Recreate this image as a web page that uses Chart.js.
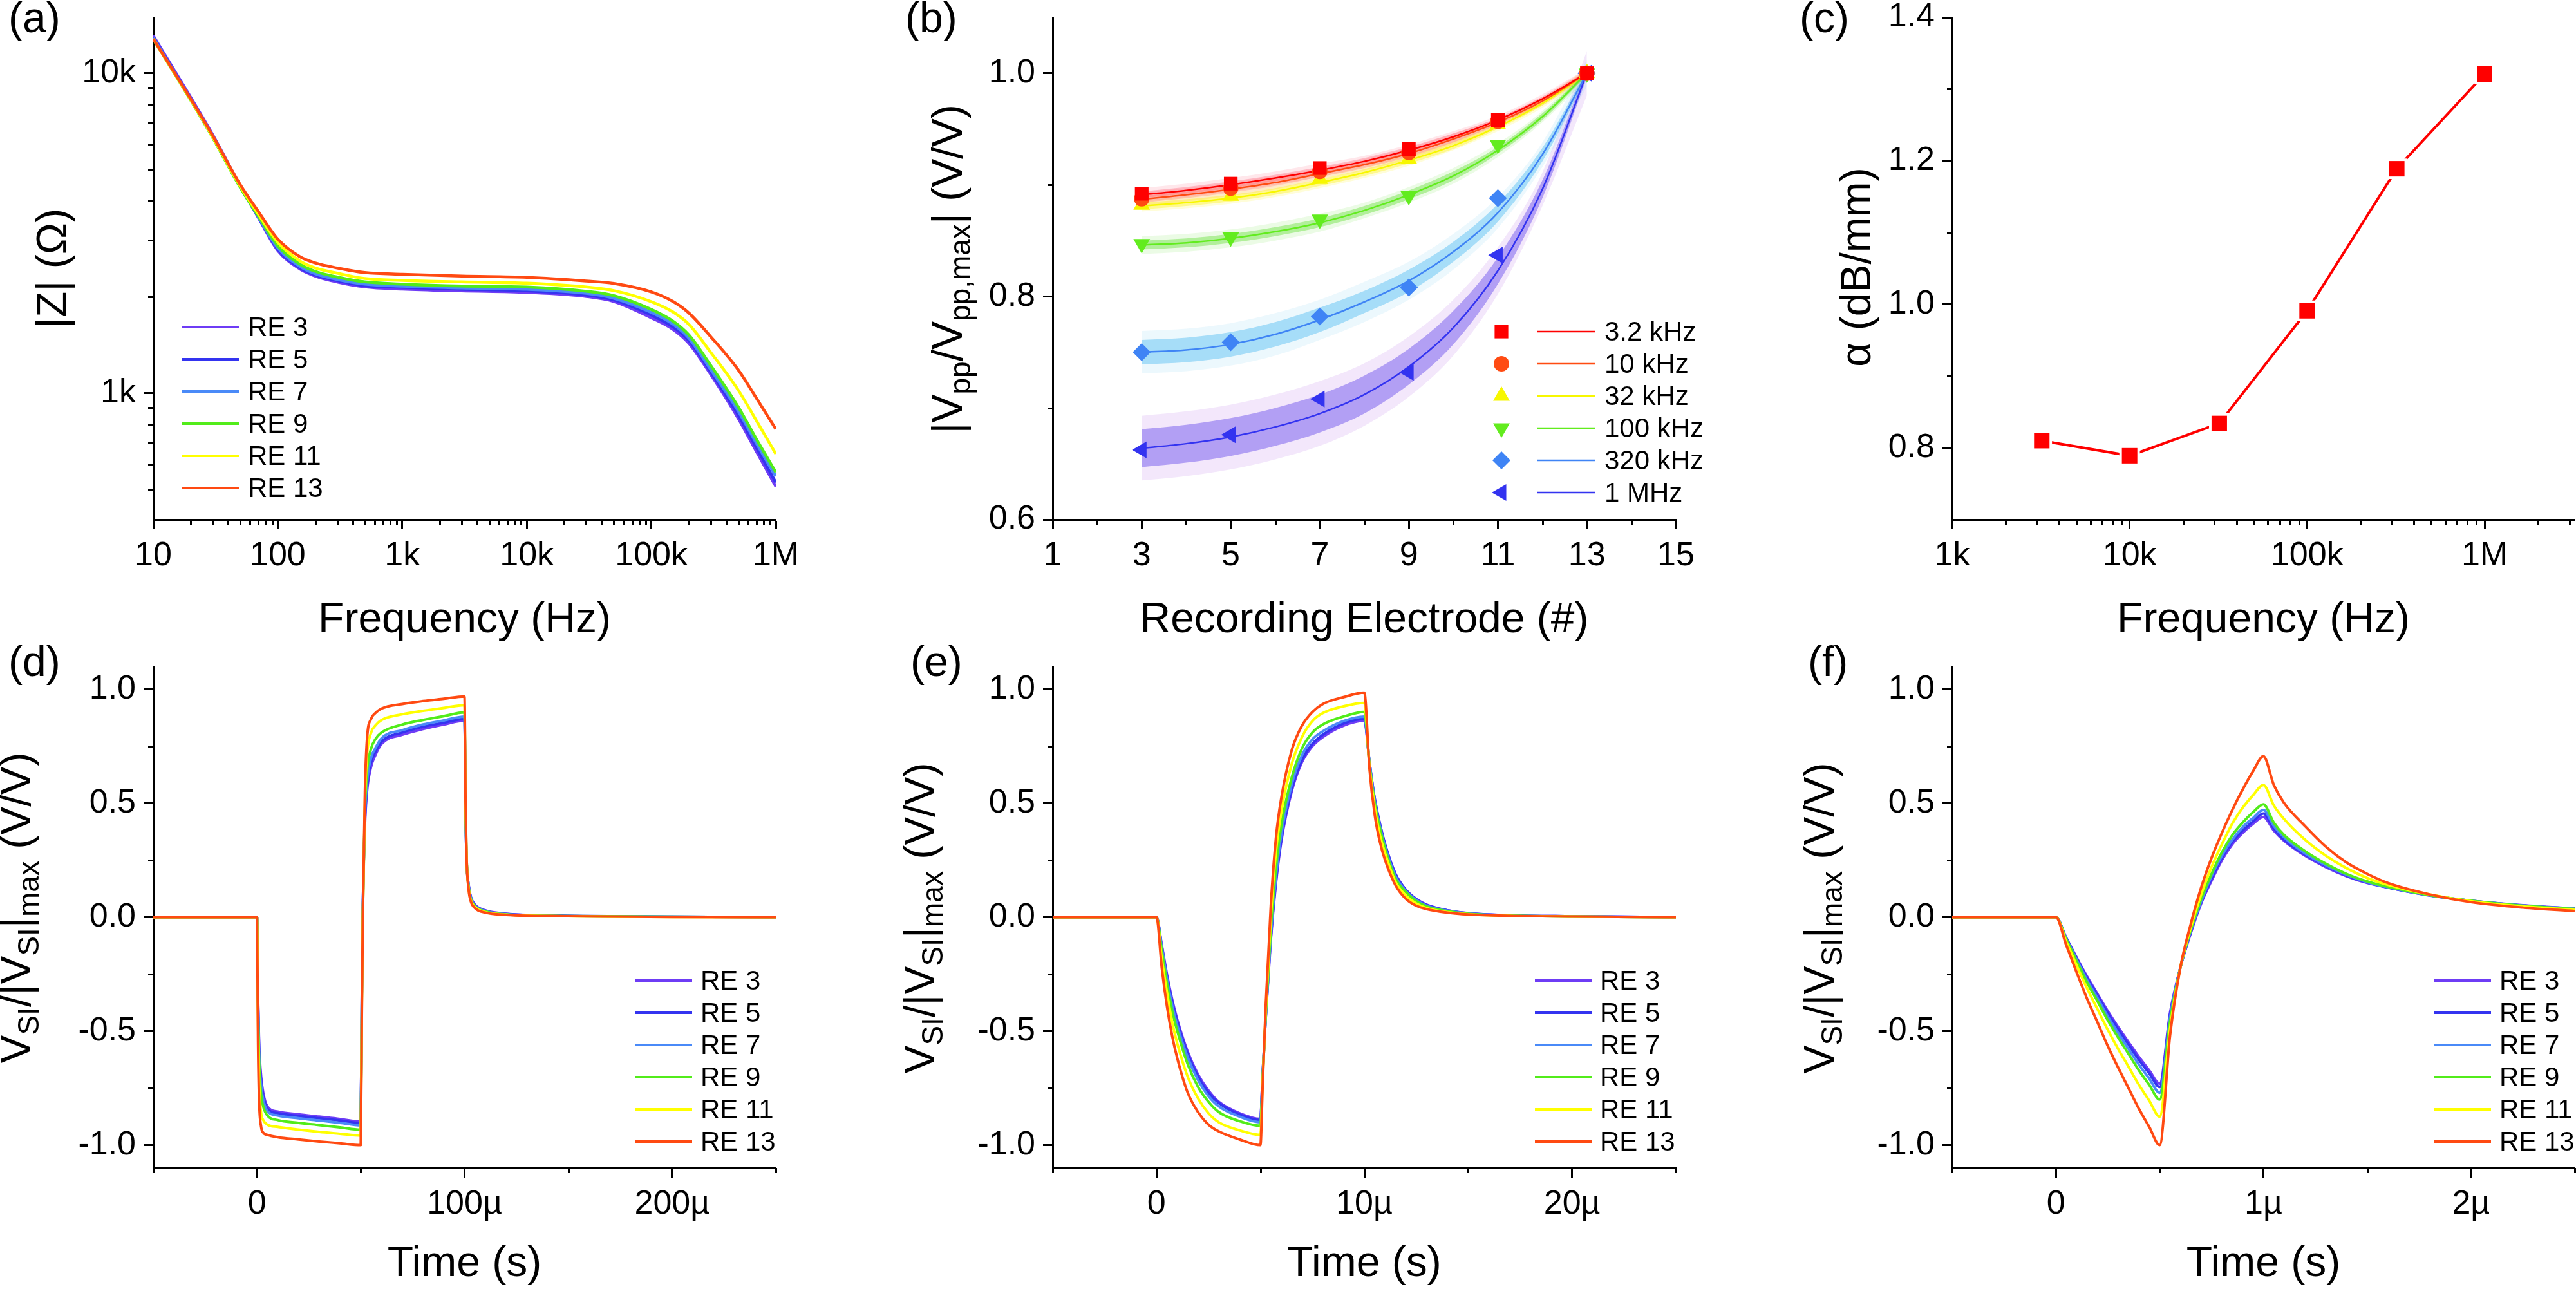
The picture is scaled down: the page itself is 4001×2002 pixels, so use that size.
<!DOCTYPE html>
<html>
<head>
<meta charset="utf-8">
<title>Attenuation along the recording electrodes</title>
<script src="https://cdn.jsdelivr.net/npm/chart.js@4.4.1/dist/chart.umd.min.js"></script>
<style>
  html, body { margin: 0; padding: 0; background: #fff; }
  body { position: relative; width: 4001px; height: 2002px; overflow: hidden; }
  canvas { position: absolute; }
</style>
</head>
<body>
<canvas id="panelA"></canvas>
<canvas id="panelB"></canvas>
<canvas id="panelC"></canvas>
<canvas id="panelD"></canvas>
<canvas id="panelE"></canvas>
<canvas id="panelF"></canvas>
<script>
const FONT = "'Liberation Sans', Arial, sans-serif";
const TICK_FS = 52, TITLE_FS = 66, LEG_FS = 42;
Chart.defaults.font.family = FONT;
Chart.defaults.color = '#000';

// ---------- (a) impedance magnitude
const freqA = [10, 20, 30, 50, 70, 100, 150, 200, 300, 500, 1e3, 3e3, 1e4, 3e4, 5e4, 1e5, 1.5e5, 2e5, 3e5, 5e5, 7e5, 1e6];
const zRE3  = [13100, 8400, 6420, 4440, 3530, 2790, 2443, 2320, 2224, 2147, 2113, 2086, 2063, 2003, 1932, 1718, 1579, 1431, 1143, 832, 655, 510];
const zRE5  = [12950, 8300, 6340, 4410, 3540, 2815, 2465, 2340, 2245, 2165, 2140, 2110, 2086, 2025, 1954, 1753, 1608, 1460, 1164, 852, 674, 525];
const zRE7  = [12880, 8250, 6300, 4400, 3550, 2840, 2490, 2360, 2265, 2190, 2157, 2130, 2110, 2050, 1978, 1786, 1640, 1486, 1184, 878, 695, 549];
const zRE9  = [12800, 8230, 6290, 4390, 3570, 2890, 2530, 2400, 2305, 2225, 2190, 2160, 2145, 2080, 2015, 1825, 1675, 1520, 1220, 904, 716, 565];
const zRE11 = [12800, 8250, 6320, 4430, 3620, 2960, 2590, 2460, 2370, 2280, 2250, 2225, 2205, 2145, 2090, 1930, 1790, 1640, 1340, 1020, 818, 645];
const zRE13 = [12800, 8300, 6380, 4480, 3690, 3030, 2670, 2550, 2460, 2380, 2350, 2320, 2300, 2240, 2200, 2070, 1930, 1780, 1500, 1180, 962, 771];
const reLabels = ['RE 3', 'RE 5', 'RE 7', 'RE 9', 'RE 11', 'RE 13'];
const reColors = ['#6E3CF5', '#3434F0', '#4A8AF8', '#52EC1A', '#FFFF00', '#FF4A12'];
const tickAX = [10, 100, 1e3, 1e4, 1e5, 1e6];
const tickAXLbl = ['10', '100', '1k', '10k', '100k', '1M'];
const tickAY = [1e3, 1e4];
const tickAYLbl = ['1k', '10k'];

// ---------- (b) normalised peak-to-peak amplitude
const electrodes = [3, 5, 7, 9, 11, 13];
const fitX = [3, 4, 5, 6, 7, 8, 9, 10, 11, 12, 13];
const bLabels = ['3.2 kHz', '10 kHz', '32 kHz', '100 kHz', '320 kHz', '1 MHz'];
const vpp3k2  = [0.892, 0.901, 0.915, 0.932, 0.958, 1.0];
const vpp10k  = [0.8875, 0.897, 0.912, 0.929, 0.957, 1.0];
const vpp32k  = [0.882, 0.890, 0.905, 0.923, 0.954, 1.0];
const vpp100k = [0.847, 0.853, 0.869, 0.890, 0.936, 1.0];
const vpp320k = [0.750, 0.759, 0.782, 0.808, 0.888, 1.0];
const vpp1M   = [0.6625, 0.676, 0.708, 0.732, 0.837, 1.0];
const fit3k2  = [0.891, 0.895, 0.900, 0.906, 0.913, 0.921, 0.931, 0.943, 0.958, 0.977, 1.0];
const fit10k  = [0.887, 0.891, 0.896, 0.902, 0.910, 0.918, 0.928, 0.941, 0.956, 0.975, 1.0];
const fit32k  = [0.881, 0.884, 0.888, 0.894, 0.902, 0.911, 0.922, 0.935, 0.952, 0.973, 1.0];
const fit100k = [0.846, 0.848, 0.852, 0.858, 0.866, 0.877, 0.891, 0.908, 0.931, 0.961, 1.0];
const fit320k = [0.750, 0.752, 0.757, 0.766, 0.779, 0.795, 0.814, 0.840, 0.875, 0.927, 1.0];
const fit1M   = [0.664, 0.668, 0.674, 0.683, 0.695, 0.712, 0.737, 0.772, 0.823, 0.896, 1.0];
// half widths of the confidence (inner) and prediction (outer) bands
const in3k2   = [0.003, 0.003, 0.003, 0.003, 0.003, 0.003, 0.003, 0.003, 0.002, 0.002, 0.002];
const out3k2  = [0.006, 0.006, 0.006, 0.006, 0.006, 0.005, 0.005, 0.005, 0.004, 0.004, 0.004];
const in10k   = [0.003, 0.003, 0.003, 0.003, 0.003, 0.003, 0.003, 0.003, 0.002, 0.002, 0.002];
const out10k  = [0.006, 0.006, 0.006, 0.006, 0.005, 0.005, 0.005, 0.005, 0.004, 0.004, 0.004];
const in32k   = [0.003, 0.003, 0.003, 0.003, 0.003, 0.003, 0.003, 0.003, 0.002, 0.002, 0.002];
const out32k  = [0.005, 0.005, 0.005, 0.005, 0.005, 0.005, 0.005, 0.004, 0.004, 0.004, 0.004];
const in100k  = [0.004, 0.004, 0.004, 0.004, 0.004, 0.004, 0.004, 0.004, 0.003, 0.003, 0.002];
const out100k = [0.008, 0.008, 0.008, 0.008, 0.008, 0.007, 0.007, 0.007, 0.006, 0.005, 0.005];
const in320k  = [0.011, 0.011, 0.011, 0.011, 0.011, 0.010, 0.010, 0.009, 0.008, 0.006, 0.003];
const out320k = [0.019, 0.019, 0.019, 0.019, 0.018, 0.018, 0.017, 0.016, 0.014, 0.011, 0.012];
const in1M    = [0.017, 0.017, 0.017, 0.017, 0.017, 0.017, 0.016, 0.015, 0.012, 0.008, 0.004];
const out1M   = [0.029, 0.029, 0.029, 0.029, 0.029, 0.028, 0.027, 0.025, 0.021, 0.015, 0.020];
const tickBX = [1, 3, 5, 7, 9, 11, 13, 15];
const tickBXLbl = ['1', '3', '5', '7', '9', '11', '13', '15'];
const tickBY = [0.6, 0.8, 1.0];
const tickBYLbl = ['0.6', '0.8', '1.0'];

// ---------- (c) attenuation constant
const freqC  = [3200, 10000, 32000, 100000, 320000, 1000000];
const alphaC = [0.81, 0.789, 0.834, 0.991, 1.189, 1.321];
const tickCX = [1e3, 1e4, 1e5, 1e6];
const tickCXLbl = ['1k', '10k', '100k', '1M'];
const tickCY = [0.8, 1.0, 1.2, 1.4];
const tickCYLbl = ['0.8', '1.0', '1.2', '1.4'];

// ---------- (d) 50 us pulse
const tD = [-50, 0, 0.5, 1, 2, 3, 5, 10, 20, 30, 40, 50, 50.5, 51, 52, 53, 55, 57, 60, 70, 80, 90, 100, 100.5, 101, 102, 103, 105, 110, 120, 150, 200, 250];
const dRE3  = [0, 0, -0.35, -0.55, -0.70, -0.77, -0.83, -0.853, -0.865, -0.875, -0.885, -0.897, -0.35, 0.05, 0.40, 0.55, 0.66, 0.71, 0.76, 0.80, 0.825, 0.845, 0.862, 0.45, 0.25, 0.14, 0.09, 0.055, 0.03, 0.015, 0.006, 0.002, 0];
const dRE5  = [0, 0, -0.36, -0.57, -0.72, -0.785, -0.84, -0.86, -0.872, -0.882, -0.892, -0.903, -0.36, 0.04, 0.42, 0.57, 0.68, 0.725, 0.77, 0.81, 0.835, 0.853, 0.87, 0.46, 0.25, 0.14, 0.088, 0.053, 0.028, 0.014, 0.006, 0.002, 0];
const dRE7  = [0, 0, -0.37, -0.59, -0.74, -0.80, -0.85, -0.87, -0.882, -0.892, -0.902, -0.913, -0.37, 0.03, 0.44, 0.59, 0.70, 0.74, 0.785, 0.82, 0.845, 0.863, 0.88, 0.47, 0.25, 0.135, 0.085, 0.05, 0.027, 0.013, 0.005, 0.002, 0];
const dRE9  = [0, 0, -0.40, -0.63, -0.78, -0.83, -0.87, -0.89, -0.902, -0.912, -0.922, -0.932, -0.39, 0.02, 0.47, 0.64, 0.74, 0.78, 0.81, 0.845, 0.865, 0.882, 0.898, 0.47, 0.26, 0.13, 0.08, 0.048, 0.025, 0.012, 0.005, 0.002, 0];
const dRE11 = [0, 0, -0.47, -0.72, -0.86, -0.89, -0.91, -0.92, -0.932, -0.942, -0.95, -0.958, -0.42, 0.01, 0.51, 0.71, 0.81, 0.84, 0.865, 0.89, 0.905, 0.918, 0.93, 0.49, 0.26, 0.125, 0.075, 0.045, 0.022, 0.011, 0.004, 0.001, 0];
const dRE13 = [0, 0, -0.55, -0.80, -0.92, -0.945, -0.955, -0.965, -0.975, -0.984, -0.992, -1.0, -0.45, 0.0, 0.55, 0.78, 0.87, 0.895, 0.915, 0.935, 0.948, 0.958, 0.968, 0.50, 0.26, 0.12, 0.07, 0.04, 0.02, 0.01, 0.004, 0.001, 0];
const tickDX = [0, 100, 200];
const tickDXLbl = ['0', '100\u00b5', '200\u00b5'];

// ---------- (e) 5 us pulse
const tE = [-5, 0, 0.25, 0.5, 0.75, 1, 1.5, 2, 2.5, 3, 4, 5, 5.1, 5.25, 5.5, 5.75, 6, 6.5, 7, 7.5, 8, 9, 10, 10.25, 10.5, 10.75, 11, 11.5, 12, 12.5, 13, 14, 15, 17, 20, 25];
const eRE3  = [0, 0, -0.12, -0.25, -0.36, -0.45, -0.59, -0.69, -0.76, -0.81, -0.86, -0.885, -0.70, -0.45, -0.10, 0.15, 0.33, 0.55, 0.68, 0.75, 0.79, 0.84, 0.862, 0.68, 0.52, 0.41, 0.32, 0.19, 0.12, 0.08, 0.055, 0.03, 0.018, 0.008, 0.004, 0];
const eRE5  = [0, 0, -0.125, -0.26, -0.37, -0.46, -0.60, -0.70, -0.77, -0.815, -0.865, -0.89, -0.70, -0.45, -0.09, 0.16, 0.34, 0.56, 0.69, 0.76, 0.80, 0.85, 0.87, 0.68, 0.52, 0.41, 0.32, 0.19, 0.12, 0.078, 0.053, 0.03, 0.017, 0.008, 0.004, 0];
const eRE7  = [0, 0, -0.13, -0.27, -0.385, -0.475, -0.615, -0.715, -0.785, -0.83, -0.875, -0.90, -0.71, -0.45, -0.08, 0.18, 0.36, 0.58, 0.71, 0.78, 0.815, 0.86, 0.88, 0.68, 0.51, 0.40, 0.31, 0.18, 0.115, 0.075, 0.05, 0.028, 0.016, 0.007, 0.003, 0];
const eRE9  = [0, 0, -0.145, -0.29, -0.41, -0.50, -0.645, -0.745, -0.81, -0.855, -0.895, -0.915, -0.72, -0.44, -0.05, 0.22, 0.40, 0.61, 0.74, 0.81, 0.845, 0.88, 0.90, 0.67, 0.50, 0.39, 0.30, 0.17, 0.11, 0.07, 0.047, 0.026, 0.015, 0.007, 0.003, 0];
const eRE11 = [0, 0, -0.18, -0.33, -0.46, -0.555, -0.70, -0.795, -0.86, -0.90, -0.935, -0.955, -0.74, -0.42, 0.0, 0.29, 0.46, 0.67, 0.79, 0.86, 0.895, 0.925, 0.94, 0.66, 0.48, 0.36, 0.28, 0.155, 0.095, 0.06, 0.04, 0.022, 0.013, 0.006, 0.003, 0];
const eRE13 = [0, 0, -0.22, -0.39, -0.52, -0.62, -0.77, -0.855, -0.91, -0.94, -0.975, -1.0, -0.76, -0.40, 0.05, 0.35, 0.52, 0.73, 0.84, 0.90, 0.935, 0.965, 0.985, 0.65, 0.45, 0.33, 0.25, 0.14, 0.08, 0.05, 0.035, 0.02, 0.012, 0.006, 0.003, 0];
const tickEX = [0, 10, 20];
const tickEXLbl = ['0', '10\u00b5', '20\u00b5'];

// ---------- (f) 0.5 us pulse
const tF = [-0.5, 0, 0.05, 0.1, 0.15, 0.2, 0.25, 0.3, 0.35, 0.4, 0.45, 0.5, 0.55, 0.6, 0.65, 0.7, 0.75, 0.8, 0.85, 0.9, 0.95, 1.0, 1.05, 1.1, 1.2, 1.3, 1.4, 1.5, 1.6, 1.8, 2.0, 2.25, 2.5];
const fRE3  = [0, 0, -0.09, -0.177, -0.26, -0.336, -0.412, -0.482, -0.548, -0.613, -0.672, -0.73, -0.42, -0.22, -0.07, 0.06, 0.16, 0.25, 0.32, 0.37, 0.41, 0.44, 0.38, 0.335, 0.27, 0.22, 0.18, 0.15, 0.13, 0.095, 0.072, 0.052, 0.038];
const fRE5  = [0, 0, -0.092, -0.18, -0.266, -0.343, -0.421, -0.492, -0.559, -0.626, -0.685, -0.745, -0.43, -0.22, -0.065, 0.065, 0.17, 0.26, 0.33, 0.38, 0.42, 0.455, 0.39, 0.34, 0.275, 0.225, 0.183, 0.152, 0.13, 0.096, 0.072, 0.051, 0.037];
const fRE7  = [0, 0, -0.095, -0.186, -0.275, -0.354, -0.435, -0.508, -0.578, -0.647, -0.708, -0.77, -0.44, -0.22, -0.06, 0.07, 0.18, 0.27, 0.34, 0.395, 0.435, 0.47, 0.40, 0.35, 0.28, 0.228, 0.186, 0.154, 0.131, 0.096, 0.072, 0.051, 0.037];
const fRE9  = [0, 0, -0.098, -0.194, -0.286, -0.368, -0.452, -0.528, -0.60, -0.672, -0.736, -0.80, -0.46, -0.22, -0.055, 0.08, 0.19, 0.285, 0.36, 0.415, 0.46, 0.495, 0.415, 0.36, 0.29, 0.235, 0.19, 0.157, 0.133, 0.097, 0.072, 0.05, 0.036];
const fRE11 = [0, 0, -0.108, -0.212, -0.312, -0.403, -0.494, -0.578, -0.656, -0.735, -0.805, -0.875, -0.49, -0.22, -0.045, 0.10, 0.22, 0.32, 0.41, 0.48, 0.535, 0.58, 0.49, 0.43, 0.34, 0.27, 0.215, 0.172, 0.142, 0.10, 0.07, 0.047, 0.032];
const fRE13 = [0, 0, -0.123, -0.242, -0.357, -0.46, -0.565, -0.66, -0.75, -0.84, -0.92, -1.0, -0.52, -0.22, -0.03, 0.13, 0.26, 0.37, 0.47, 0.56, 0.64, 0.706, 0.58, 0.50, 0.40, 0.31, 0.24, 0.19, 0.15, 0.10, 0.066, 0.042, 0.027];
const tickFX = [0, 1, 2];
const tickFXLbl = ['0', '1\u00b5', '2\u00b5'];

const tickVY = [-1, -0.5, 0, 0.5, 1];
const tickVYLbl = ['-1.0', '-0.5', '0.0', '0.5', '1.0'];

// ---------- helpers
function logMinor(lo, hi) {
  const out = [];
  for (let d = lo; d < hi; d *= 10)
    for (let m = 2; m <= 9; m++) if (d * m <= hi) out.push(d * m);
  return out;
}

function parseRich(str) {
  const segs = [];
  str.split(/(_\{[^}]*\})/).forEach(p => {
    if (!p) return;
    if (p.startsWith('_{')) segs.push({t: p.slice(2, -1), sub: true});
    else segs.push({t: p, sub: false});
  });
  return segs;
}

function drawRich(ctx, str, size, cx, by) {
  const segs = parseRich(str);
  const fnt = s => (s.sub ? Math.round(size * 0.7) : size) + 'px ' + FONT;
  let w = 0;
  segs.forEach(s => { ctx.font = fnt(s); w += ctx.measureText(s.t).width; });
  let x = cx - w / 2;
  ctx.textAlign = 'left';
  ctx.textBaseline = 'alphabetic';
  ctx.fillStyle = '#000';
  segs.forEach(s => {
    ctx.font = fnt(s);
    ctx.fillText(s.t, x, by + (s.sub ? size * 0.2 : 0));
    x += ctx.measureText(s.t).width;
  });
}

function drawMarker(ctx, mk, x, y, color) {
  ctx.fillStyle = color;
  ctx.beginPath();
  if (mk.style === 'rect') {
    const s = Math.SQRT1_2 * mk.r;
    ctx.rect(x - s, y - s, 2 * s, 2 * s);
  } else if (mk.style === 'circle') {
    ctx.arc(x, y, mk.r, 0, Math.PI * 2);
  } else if (mk.style === 'rectRot') {
    ctx.moveTo(x - mk.r, y); ctx.lineTo(x, y - mk.r); ctx.lineTo(x + mk.r, y); ctx.lineTo(x, y + mk.r);
  } else {
    let a = (mk.rot || 0) * Math.PI / 180;
    for (let k = 0; k < 3; k++) {
      const px = x + Math.sin(a) * mk.r, py = y - Math.cos(a) * mk.r;
      if (k === 0) ctx.moveTo(px, py); else ctx.lineTo(px, py);
      a += 2 * Math.PI / 3;
    }
  }
  ctx.closePath();
  ctx.fill();
}

function drawLegend(ctx, lg) {
  lg.items.forEach((it, i) => {
    const y = lg.y0 + i * lg.dy;
    ctx.strokeStyle = it.color;
    ctx.lineWidth = lg.lw;
    ctx.beginPath(); ctx.moveTo(lg.x0, y); ctx.lineTo(lg.x1, y); ctx.stroke();
    if (it.marker) drawMarker(ctx, it.marker, lg.mx, y, it.color);
    ctx.font = LEG_FS + 'px ' + FONT;
    ctx.textAlign = 'left';
    ctx.textBaseline = 'middle';
    ctx.fillStyle = '#000';
    ctx.fillText(it.label, lg.tx, y + 2);
  });
}

function axis(type, min, max, vals, lbls, isX, size) {
  return {
    type, min, max,
    position: isX ? 'bottom' : 'left',
    border: {display: true, color: '#000', width: 3},
    grid: {display: true, drawOnChartArea: false, drawTicks: true, tickLength: 15, tickWidth: 3, tickColor: '#000'},
    ticks: {
      autoSkip: false, maxRotation: 0, minRotation: 0,
      padding: isX ? 10 : 12, color: '#000',
      font: {size: TICK_FS, family: FONT},
      callback: (v, i) => lbls[i]
    },
    afterBuildTicks: s => { s.ticks = vals.map(v => ({value: v})); },
    afterFit: s => {
      if (isX) s.height = size; else s.width = size;
      s.paddingLeft = 0; s.paddingRight = 0; s.paddingTop = 0; s.paddingBottom = 0;
    }
  };
}

function decorPlugin(box, plot, d) {
  return {
    id: 'decor',
    afterDraw(chart) {
      const ctx = chart.ctx, ca = chart.chartArea;
      const xs = chart.scales.x, ys = chart.scales.y;
      ctx.save();
      // minor ticks
      ctx.strokeStyle = '#000';
      ctx.lineWidth = 3;
      ctx.beginPath();
      d.minorX.forEach(v => {
        const p = Math.round(xs.getPixelForValue(v)) + 0.5;
        ctx.moveTo(p, ca.bottom); ctx.lineTo(p, ca.bottom + 8);
      });
      d.minorY.forEach(v => {
        const p = Math.round(ys.getPixelForValue(v)) + 0.5;
        ctx.moveTo(ca.left, p); ctx.lineTo(ca.left - 8, p);
      });
      ctx.stroke();
      // everything else in page coordinates
      ctx.translate(-box.x, -box.y);
      drawRich(ctx, d.xTitle, TITLE_FS, (plot.l + plot.r) / 2, d.xTitleY);
      ctx.save();
      ctx.translate(d.yTitleX, d.yTitleY);
      ctx.rotate(-Math.PI / 2);
      drawRich(ctx, d.yTitle, TITLE_FS, 0, 0);
      ctx.restore();
      ctx.font = TITLE_FS + 'px ' + FONT;
      ctx.textAlign = 'left';
      ctx.textBaseline = 'alphabetic';
      ctx.fillStyle = '#000';
      ctx.fillText(d.tag, d.tagX, d.tagY);
      if (d.legend) drawLegend(ctx, d.legend);
      ctx.restore();
    }
  };
}

function buildPanel(id, box, plot, xAxis, yAxis, datasets, d) {
  const cv = document.getElementById(id);
  cv.width = box.w; cv.height = box.h;
  cv.style.left = box.x + 'px'; cv.style.top = box.y + 'px';
  const yW = plot.l - box.x, xH = box.y + box.h - plot.b;
  new Chart(cv, {
    type: 'line',
    data: {datasets},
    options: {
      responsive: false, animation: false, devicePixelRatio: 1, events: [],
      layout: {autoPadding: false, padding: {left: 0, top: plot.t - box.y, right: box.x + box.w - plot.r, bottom: 0}},
      plugins: {legend: {display: false}, tooltip: {enabled: false}},
      scales: {
        x: axis(xAxis.type, xAxis.min, xAxis.max, xAxis.vals, xAxis.lbls, true, xH),
        y: axis(yAxis.type, yAxis.min, yAxis.max, yAxis.vals, yAxis.lbls, false, yW)
      }
    },
    plugins: [decorPlugin(box, plot, d)]
  });
}

function reDatasets(xs, series, width) {
  return series.map((ys, i) => ({
    data: xs.map((x, k) => ({x, y: ys[k]})),
    borderColor: reColors[i], borderWidth: width, borderJoinStyle: 'round',
    pointRadius: 0, fill: false, cubicInterpolationMode: 'monotone',
    order: series.length - i
  }));
}

function reLegend(x0, x1, tx, y0) {
  return {x0, x1, tx, y0, dy: 50, lw: 4, items: reLabels.map((l, i) => ({label: l, color: reColors[i]}))};
}

// ---------- layout boxes (page px)
const col = [{x: 0, w: 1330}, {x: 1335, w: 1330}, {x: 2670, w: 1331}];
const row = [{y: 0, h: 1000}, {y: 1000, h: 1002}];
const boxOf = (c, r) => ({x: col[c].x, w: col[c].w, y: row[r].y, h: row[r].h});

// (a)
buildPanel('panelA', boxOf(0, 0), {l: 238, t: 27, r: 1205, b: 807},
  {type: 'logarithmic', min: 10, max: 1e6, vals: tickAX, lbls: tickAXLbl},
  {type: 'logarithmic', min: 402, max: 14940, vals: tickAY, lbls: tickAYLbl},
  reDatasets(freqA, [zRE3, zRE5, zRE7, zRE9, zRE11, zRE13], 4.5),
  {minorX: logMinor(10, 1e6), minorY: logMinor(100, 14940).filter(v => v >= 402),
   xTitle: 'Frequency (Hz)', xTitleY: 982, yTitle: '|Z| (\u03a9)', yTitleX: 103, yTitleY: 417,
   tag: '(a)', tagX: 13, tagY: 50, legend: reLegend(282, 371, 385, 508)});

// (b)
const bColors = ['#FF0000', '#FF4B12', '#F7F700', '#62EC1E', '#3F84F5', '#3333F0'];
const bBands = [
  ['rgba(255,60,90,0.28)', 'rgba(255,60,90,0.12)'],
  ['rgba(255,110,60,0.28)', 'rgba(255,110,60,0.12)'],
  ['rgba(255,240,0,0.35)', 'rgba(255,240,0,0.15)'],
  ['rgba(90,220,40,0.40)', 'rgba(120,230,80,0.15)'],
  ['rgba(60,180,240,0.40)', 'rgba(100,200,240,0.12)'],
  ['rgba(100,70,235,0.45)', 'rgba(190,120,235,0.18)']
];
const bMarkers = [
  {style: 'rect', r: 15, rot: 0}, {style: 'circle', r: 12, rot: 0}, {style: 'triangle', r: 15, rot: 0},
  {style: 'triangle', r: 15, rot: 180}, {style: 'rectRot', r: 14, rot: 0}, {style: 'triangle', r: 15, rot: -90}
];
const bPts = [vpp3k2, vpp10k, vpp32k, vpp100k, vpp320k, vpp1M];
const bFit = [fit3k2, fit10k, fit32k, fit100k, fit320k, fit1M];
const bIn = [in3k2, in10k, in32k, in100k, in320k, in1M];
const bOut = [out3k2, out10k, out32k, out100k, out320k, out1M];
const dsB = [];
bPts.forEach((pts, j) => {
  const band = (hw, sign) => fitX.map((x, k) => ({x, y: bFit[j][k] + sign * hw[k]}));
  const edge = {borderColor: 'rgba(0,0,0,0)', borderWidth: 0, pointRadius: 0, cubicInterpolationMode: 'monotone'};
  dsB.push(Object.assign({data: band(bOut[j], 1), fill: '+1', backgroundColor: bBands[j][1], order: 30}, edge));
  dsB.push(Object.assign({data: band(bOut[j], -1), fill: false, order: 30}, edge));
  dsB.push(Object.assign({data: band(bIn[j], 1), fill: '+1', backgroundColor: bBands[j][0], order: 20}, edge));
  dsB.push(Object.assign({data: band(bIn[j], -1), fill: false, order: 20}, edge));
  dsB.push({data: fitX.map((x, k) => ({x, y: bFit[j][k]})), borderColor: bColors[j], borderWidth: 2.5,
    pointRadius: 0, fill: false, cubicInterpolationMode: 'monotone', order: 10});
  const mk = bMarkers[j];
  dsB.push({data: electrodes.map((x, k) => ({x, y: pts[k]})), showLine: false,
    pointStyle: mk.style, pointRadius: mk.r, pointRotation: mk.rot,
    pointBackgroundColor: bColors[j], pointBorderColor: bColors[j], pointBorderWidth: 0, order: 0});
});
buildPanel('panelB', boxOf(1, 0), {l: 1635, t: 27, r: 2603, b: 807},
  {type: 'linear', min: 1, max: 15, vals: tickBX, lbls: tickBXLbl},
  {type: 'linear', min: 0.6, max: 1.05, vals: tickBY, lbls: tickBYLbl},
  dsB,
  {minorX: [2, 4, 6, 8, 10, 12, 14], minorY: [0.7, 0.9],
   xTitle: 'Recording Electrode (#)', xTitleY: 982, yTitle: '|V_{pp}/V_{pp,max}| (V/V)', yTitleX: 1494, yTitleY: 418,
   tag: '(b)', tagX: 1406, tagY: 50,
   legend: {x0: 2388, x1: 2478, tx: 2492, mx: 2332, y0: 515, dy: 50, lw: 2.5,
     items: bLabels.map((l, j) => ({label: l, color: bColors[j], marker: bMarkers[j]}))}});

// (c)
const cPts = freqC.map((f, k) => ({x: f, y: alphaC[k]}));
buildPanel('panelC', boxOf(2, 0), {l: 3032, t: 27, r: 3999, b: 807},
  {type: 'logarithmic', min: 1e3, max: 3.22e6, vals: tickCX, lbls: tickCXLbl},
  {type: 'linear', min: 0.7, max: 1.4, vals: tickCY, lbls: tickCYLbl},
  [
    {data: cPts, showLine: false, pointStyle: 'rect', pointRadius: 17, pointBackgroundColor: '#FF0000', pointBorderWidth: 0, order: 0},
    {data: cPts, showLine: false, pointStyle: 'rect', pointRadius: 22.5, pointBackgroundColor: '#FFFFFF', pointBorderWidth: 0, order: 1},
    {data: cPts, borderColor: '#FF0000', borderWidth: 4, pointRadius: 0, fill: false, tension: 0, order: 2}
  ],
  {minorX: logMinor(1e3, 3.22e6), minorY: [0.9, 1.1, 1.3],
   xTitle: 'Frequency (Hz)', xTitleY: 982, yTitle: '\u03b1 (dB/mm)', yTitleX: 2905, yTitleY: 415,
   tag: '(c)', tagX: 2795, tagY: 50});

// (d)
buildPanel('panelD', boxOf(0, 1), {l: 238, t: 1035, r: 1205, b: 1814},
  {type: 'linear', min: -50, max: 250, vals: tickDX, lbls: tickDXLbl},
  {type: 'linear', min: -1.1, max: 1.1, vals: tickVY, lbls: tickVYLbl},
  reDatasets(tD, [dRE3, dRE5, dRE7, dRE9, dRE11, dRE13], 4),
  {minorX: [-50, 50, 150, 250], minorY: [-0.75, -0.25, 0.25, 0.75],
   xTitle: 'Time (s)', xTitleY: 1982, yTitle: 'V_{SI}/|V_{SI}|_{max} (V/V)', yTitleX: 47, yTitleY: 1410,
   tag: '(d)', tagX: 13, tagY: 1050, legend: reLegend(987, 1075, 1088, 1523)});

// (e)
buildPanel('panelE', boxOf(1, 1), {l: 1635, t: 1035, r: 2603, b: 1814},
  {type: 'linear', min: -5, max: 25, vals: tickEX, lbls: tickEXLbl},
  {type: 'linear', min: -1.1, max: 1.1, vals: tickVY, lbls: tickVYLbl},
  reDatasets(tE, [eRE3, eRE5, eRE7, eRE9, eRE11, eRE13], 4),
  {minorX: [-5, 5, 15, 25], minorY: [-0.75, -0.25, 0.25, 0.75],
   xTitle: 'Time (s)', xTitleY: 1982, yTitle: 'V_{SI}/|V_{SI}|_{max} (V/V)', yTitleX: 1451, yTitleY: 1426,
   tag: '(e)', tagX: 1414, tagY: 1050, legend: reLegend(2384, 2472, 2485, 1523)});

// (f)
buildPanel('panelF', boxOf(2, 1), {l: 3032, t: 1035, r: 3999, b: 1814},
  {type: 'linear', min: -0.5, max: 2.5, vals: tickFX, lbls: tickFXLbl},
  {type: 'linear', min: -1.1, max: 1.1, vals: tickVY, lbls: tickVYLbl},
  reDatasets(tF, [fRE3, fRE5, fRE7, fRE9, fRE11, fRE13], 4),
  {minorX: [-0.5, 0.5, 1.5, 2.5], minorY: [-0.75, -0.25, 0.25, 0.75],
   xTitle: 'Time (s)', xTitleY: 1982, yTitle: 'V_{SI}/|V_{SI}|_{max} (V/V)', yTitleX: 2848, yTitleY: 1426,
   tag: '(f)', tagX: 2808, tagY: 1050, legend: reLegend(3781, 3869, 3882, 1523)});
</script>
</body>
</html>
